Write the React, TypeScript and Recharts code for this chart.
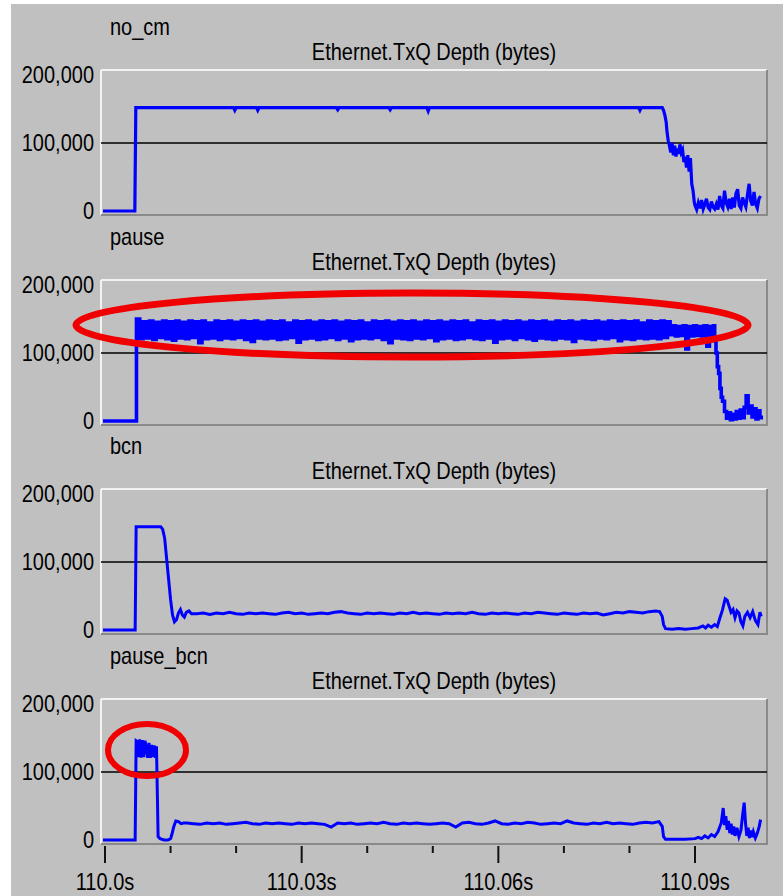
import React from 'react';
import { LineChart, Line, XAxis, YAxis, ReferenceLine } from 'recharts';

const FONT = '"Liberation Sans", Arial, Helvetica, sans-serif';

// ---------- labels / ticks ----------
const panelNames = ['no_cm', 'pause', 'bcn', 'pause_bcn'];
const panelTitle = 'Ethernet.TxQ Depth (bytes)';
const yTicks = [0, 100000, 200000];
// x values are milliseconds after 110.0 s
const xTicks = [0, 10, 20, 30, 40, 50, 60, 70, 80, 90];
const xLabels: Record<number, string> = { 0: '110.0s', 30: '110.03s', 60: '110.06s', 90: '110.09s' };

// ---------- data: [ms after 110.0 s, queue depth in kB] ----------
const noCmPoints: number[][] = [
  [-0.3, 0], [4.55, 0], [4.7, 152], [19.6, 152], [19.8, 148], [20.0, 152], [23.1, 152], [23.3, 148], [23.5, 152],
  [35.3, 152], [35.5, 149], [35.7, 152], [43.3, 152], [43.5, 149], [43.7, 152], [49.1, 152], [49.3, 147], [49.5, 152],
  [81.4, 152], [81.6, 148], [81.8, 152], [85.0, 152],
  [85.2, 148], [85.4, 141], [85.6, 131], [85.7, 119], [85.9, 104], [86.1, 96], [86.3, 86], [86.5, 100], [86.7, 82],
  [86.9, 96], [87.1, 80], [87.3, 92], [87.5, 84], [87.7, 98], [87.9, 86], [88.1, 90], [88.3, 72], [88.5, 80],
  [88.7, 64], [88.9, 82], [89.1, 58], [89.3, 78], [89.5, 40], [89.7, 30], [89.9, 12],
];
// no_cm tail, sampled every 0.25 ms from 90 ms
const noCmTailStart = 90;
const noCmTailStep = 0.25;
const noCmTailValues = [
  8, 2, 12, 4, 16, 3, 10, 18, 5, 2,
  14, 6, 3, 10, 2, 22, 8, 4, 30, 12,
  6, 18, 3, 20, 5, 26, 32, 8, 4, 20,
  12, 6, 24, 40, 15, 8, 28, 10, 4, 18,
  22,
];

const pauseHead: number[][] = [[-0.3, 0], [4.6, 0]];
// pause: dense oscillation, sampled every 0.5 ms from 4.8 ms
const pauseBandStart = 4.8;
const pauseBandStep = 0.5;
const pauseBandValues = [
  150, 121, 146, 122, 147, 120, 145, 123, 147, 121,
  146, 119, 147, 122, 145, 121, 147, 123, 146, 115,
  147, 121, 144, 122, 147, 120, 146, 122, 147, 121,
  145, 123, 147, 120, 146, 117, 147, 122, 145, 121,
  147, 122, 146, 120, 147, 121, 144, 123, 147, 116,
  146, 121, 147, 122, 145, 120, 147, 121, 146, 123,
  147, 120, 145, 122, 147, 118, 146, 121, 147, 122,
  144, 121, 147, 123, 146, 120, 147, 115, 145, 122,
  147, 121, 146, 120, 147, 122, 145, 121, 147, 123,
  146, 118, 147, 121, 145, 122, 147, 120, 146, 121,
  147, 123, 144, 121, 147, 120, 146, 122, 147, 116,
  145, 121, 147, 122, 146, 120, 147, 123, 145, 121,
  147, 119, 146, 122, 147, 121, 145, 120, 147, 122,
  146, 121, 147, 117, 145, 122, 147, 121, 146, 120,
  147, 122, 145, 121, 147, 123, 146, 118, 147, 121,
  146, 120, 147, 122, 144, 121, 147, 122, 146, 121,
  147, 123, 146,
];
const pauseTail: number[][] = [
  [86.2, 127], [86.6, 140], [87.0, 125], [87.4, 139], [87.8, 126], [88.2, 140], [88.6, 106], [89.0, 139], [89.4, 125],
  [89.8, 140], [90.2, 126], [90.6, 139], [91.0, 125], [91.4, 140], [91.8, 110], [92.2, 139], [92.6, 126], [92.8, 140],
  [93.0, 118], [93.2, 100], [93.4, 80], [93.6, 70], [93.8, 48], [94.0, 35], [94.2, 29], [94.5, 14], [94.8, 4],
  [95.1, 12], [95.4, 2], [95.7, 10], [96.0, 3], [96.3, 14], [96.6, 4], [96.9, 16], [97.2, 5], [97.5, 20], [97.8, 37],
  [98.1, 12], [98.4, 22], [98.7, 6], [99.0, 18], [99.3, 3], [99.6, 15], [99.9, 5], [100.1, 8],
];

const bcnHead: number[][] = [
  [-0.3, 0], [4.6, 0], [4.75, 152], [8.5, 152], [8.8, 148], [9.1, 135], [9.4, 105], [9.7, 75], [10.0, 45],
  [10.3, 22], [10.6, 12], [10.9, 15], [11.2, 25], [11.5, 30], [11.8, 22], [12.1, 19], [12.4, 26], [12.8, 28], [13.2, 24],
];
// bcn plateau, sampled every 1 ms from 14 ms
const bcnPlateauStart = 14;
const bcnPlateauStep = 1;
const bcnPlateauValues = [
  24, 25, 23, 25, 24, 26, 24, 23, 25, 24,
  25, 24, 23, 25, 26, 24, 25, 23, 24, 25,
  24, 26, 27, 25, 24, 23, 25, 24, 25, 24,
  23, 25, 24, 26, 24, 25, 24, 23, 25, 24,
  25, 24, 26, 24, 23, 25, 24, 25, 24, 23,
  25, 24, 26, 25, 24, 23, 25, 24, 23, 25,
  24, 25, 22, 24, 26, 25, 27, 26, 25, 27,
  28,
];
const bcnTail: number[][] = [
  [84.6, 27], [85.0, 20], [85.2, 8], [85.5, 2], [86.5, 1], [87.5, 2], [88.5, 1], [89.5, 2], [90.5, 3], [91.2, 6],
  [91.6, 3], [92.0, 7], [92.5, 4], [93.0, 8], [93.4, 5], [93.8, 18], [94.2, 30], [94.6, 46], [94.9, 44], [95.2, 35],
  [95.5, 26], [95.8, 30], [96.1, 18], [96.4, 28], [96.7, 25], [97.0, 12], [97.3, 6], [97.6, 20], [98.0, 26],
  [98.4, 18], [98.8, 27], [99.2, 14], [99.6, 8], [99.9, 26], [100.1, 20],
];

const pauseBcnHead: number[][] = [
  [-0.3, 0], [4.6, 0], [4.75, 146], [4.9, 145], [5.1, 122], [5.3, 148], [5.5, 121], [5.7, 147], [5.9, 122],
  [6.1, 146], [6.3, 135], [6.5, 121], [6.7, 143], [6.9, 121], [7.1, 140], [7.3, 122], [7.5, 139], [7.7, 121],
  [7.85, 138], [8.0, 60], [8.1, 5], [8.4, 2], [9.0, 0], [9.6, 0], [10.0, 2], [10.2, 8], [10.5, 20], [10.8, 28],
  [11.2, 27], [11.6, 24], [12.0, 25],
];
// pause_bcn plateau, sampled every 1 ms from 12.5 ms
const pauseBcnPlateauStart = 12.5;
const pauseBcnPlateauStep = 1;
const pauseBcnPlateauValues = [
  25, 24, 23, 25, 24, 25, 23, 24, 25, 26,
  24, 23, 25, 24, 25, 24, 23, 25, 24, 25,
  24, 23, 19, 25, 24, 25, 23, 24, 25, 24,
  26, 24, 23, 25, 24, 25, 24, 23, 24, 25,
  24, 19, 25, 26, 24, 23, 25, 28, 24, 23,
  25, 24, 26, 25, 23, 24, 25, 24, 28, 25,
  24, 23, 25, 24, 26, 24, 25, 24, 23, 25,
  26, 25, 27,
];
const pauseBcnTail: number[][] = [
  [85.0, 20], [85.2, 5], [85.5, 1], [87, 1], [88.5, 1], [90, 2], [90.5, 4], [91, 2], [91.5, 6], [92, 3], [92.5, 8],
  [93, 5], [93.5, 12], [94.0, 25], [94.3, 47], [94.5, 22], [94.7, 35], [94.9, 15], [95.1, 28], [95.3, 10], [95.5, 24],
  [95.7, 8], [95.9, 20], [96.1, 6], [96.4, 18], [96.7, 5], [97.0, 14], [97.3, 40], [97.5, 55], [97.7, 25], [97.9, 6],
  [98.1, 18], [98.3, 3], [98.5, 14], [98.7, 4], [98.9, 12], [99.2, 3], [99.5, 10], [99.8, 20], [100.0, 30],
];

// ---------- table building ----------
const sampled = (start: number, step: number, values: number[]) =>
  values.map((v, i) => [start + i * step, v]);
const toRows = (pts: number[][]) => pts.map(([t, kb]) => ({ t, q: kb * 1000 }));

const seriesRows = [
  toRows([...noCmPoints, ...sampled(noCmTailStart, noCmTailStep, noCmTailValues)]),
  toRows([...pauseHead, ...sampled(pauseBandStart, pauseBandStep, pauseBandValues), ...pauseTail]),
  toRows([...bcnHead, ...sampled(bcnPlateauStart, bcnPlateauStep, bcnPlateauValues), ...bcnTail]),
  toRows([...pauseBcnHead, ...sampled(pauseBcnPlateauStart, pauseBcnPlateauStep, pauseBcnPlateauValues), ...pauseBcnTail]),
];
const lineTypes: ('linear' | 'stepAfter')[] = ['linear', 'stepAfter', 'linear', 'linear'];
const lineWidths = [3.2, 3.6, 3, 3];

// ---------- layout ----------
const W = 783;
const H = 896;
const PLOT_LEFT = 101;
const PLOT_RIGHT = 767;
const PLOT_H = 145;
const ABOVE = 70;
const frameTops = [70, 280, 489, 699];
const X_DOMAIN: [number, number] = [-0.61, 100.98];
const Y_DOMAIN: [number, number] = [-5900, 207400];
const FS = 20;
const STRETCH = 1.2;

const TallText = ({ x, y, anchor, children }: { x: number; y: number; anchor?: string; children: any }) => (
  <text
    transform={`translate(${x},${y}) scale(1,${STRETCH})`}
    x={0}
    y={0}
    textAnchor={anchor || 'start'}
    dominantBaseline="central"
    fontSize={FS}
    fontFamily={FONT}
    fill="#000"
  >
    {children}
  </text>
);

const TimeTick = (props: any) => {
  const { x, y, payload } = props;
  const label = xLabels[payload.value];
  const major = label !== undefined;
  return (
    <g>
      <line x1={x} x2={x} y1={y + 2} y2={y + (major ? 19 : 9)} stroke="#111" strokeWidth={2} />
      {major && (
        <TallText x={x} y={y + 38} anchor="middle">
          {label}
        </TallText>
      )}
    </g>
  );
};

const DepthTick = (props: any) => {
  const { x, y, payload } = props;
  return (
    <TallText x={x} y={y} anchor="end">
      {Number(payload.value).toLocaleString('en-US')}
    </TallText>
  );
};

function Panel({ top, rows, showX, lineType, lineWidth }: { top: number; rows: any[]; showX: boolean; lineType: any; lineWidth: number }) {
  const bottom = showX ? 52 : 20;
  const h = ABOVE + PLOT_H + bottom;
  return (
    <div style={{ position: 'absolute', left: 0, top: top - ABOVE, width: W, height: h }}>
      <LineChart width={W} height={h} data={rows} margin={{ top: ABOVE, right: W - PLOT_RIGHT, bottom: showX ? 0 : 20, left: 0 }}>
        <XAxis
          dataKey="t"
          type="number"
          domain={X_DOMAIN}
          allowDataOverflow
          ticks={xTicks}
          interval={0}
          hide={!showX}
          height={showX ? 52 : 0}
          tickLine={false}
          axisLine={false}
          tickSize={0}
          tickMargin={0}
          tick={<TimeTick />}
        />
        <YAxis
          type="number"
          domain={Y_DOMAIN}
          allowDataOverflow
          ticks={yTicks}
          interval={0}
          width={PLOT_LEFT}
          tickLine={false}
          axisLine={false}
          tickSize={0}
          tickMargin={7}
          tick={<DepthTick />}
        />
        <ReferenceLine y={100000} stroke="#000" strokeWidth={1.5} />
        <Line type={lineType} dataKey="q" stroke="#0000ff" strokeWidth={lineWidth} dot={false} isAnimationActive={false} />
      </LineChart>
    </div>
  );
}

export default function App() {
  return (
    <div style={{ position: 'absolute', left: 0, top: 0, width: W, height: H, overflow: 'hidden', background: '#fff', fontFamily: FONT }}>
      <svg width={W} height={H} style={{ position: 'absolute', left: 0, top: 0 }}>
        <rect x={11} y={4} width={W - 11} height={H - 4} fill="#c0c0c0" />
        {frameTops.map((ft, i) => (
          <g key={i}>
            <line x1={PLOT_LEFT} x2={PLOT_RIGHT} y1={ft} y2={ft} stroke="#f2f2f2" strokeWidth={2} />
            <line x1={PLOT_LEFT} x2={PLOT_LEFT} y1={ft} y2={ft + PLOT_H} stroke="#f2f2f2" strokeWidth={2} />
            <line x1={PLOT_RIGHT} x2={PLOT_RIGHT} y1={ft} y2={ft + PLOT_H} stroke="#8a8a8a" strokeWidth={2} />
            <line x1={PLOT_LEFT} x2={PLOT_RIGHT + 1} y1={ft + PLOT_H} y2={ft + PLOT_H} stroke="#8a8a8a" strokeWidth={2} />
            <TallText x={110} y={ft - 43}>
              {panelNames[i]}
            </TallText>
            <TallText x={(PLOT_LEFT + PLOT_RIGHT) / 2} y={ft - 18} anchor="middle">
              {panelTitle}
            </TallText>
          </g>
        ))}
      </svg>
      {frameTops.map((ft, i) => (
        <Panel
          key={i}
          top={ft}
          rows={seriesRows[i]}
          showX={i === frameTops.length - 1}
          lineType={lineTypes[i]}
          lineWidth={lineWidths[i]}
        />
      ))}
      <svg width={W} height={H} style={{ position: 'absolute', left: 0, top: 0, pointerEvents: 'none' }}>
        <ellipse cx={412} cy={325} rx={336} ry={32} fill="none" stroke="#f00000" strokeWidth={7} />
        <ellipse cx={147} cy={750} rx={39} ry={26} fill="none" stroke="#f00000" strokeWidth={6} />
      </svg>
    </div>
  );
}
